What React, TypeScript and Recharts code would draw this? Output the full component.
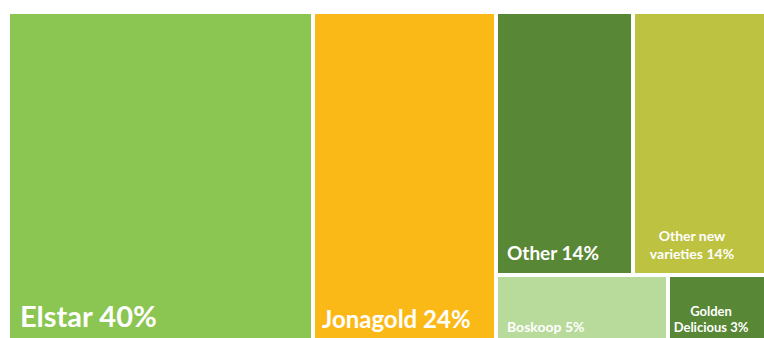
import { Treemap } from "recharts";

// variedades y su participación (%)
const varieties = ["Elstar", "Jonagold", "Other", "Other new varieties", "Boskoop", "Golden Delicious"];
const shares = [40, 24, 14, 14, 5, 3];

const colors: Record<string, string> = {
  Elstar: "#8BC552",
  Jonagold: "#FBB918",
  Other: "#588735",
  "Other new varieties": "#BDC241",
  Boskoop: "#B8DA9A",
  "Golden Delicious": "#588735",
};

// como se dibuja cada etiqueta
const labelStyle: Record<string, { size: number; lines: string[]; anchor: "start" | "middle"; dx: number; bottom: number; gap: number }> = {
  Elstar: { size: 29, lines: ["Elstar"], anchor: "start", dx: 12, bottom: 23, gap: 0 },
  Jonagold: { size: 24, lines: ["Jonagold"], anchor: "start", dx: 9, bottom: 22, gap: 0 },
  Other: { size: 19, lines: ["Other"], anchor: "start", dx: 11, bottom: 15, gap: 0 },
  "Other new varieties": { size: 14, lines: ["Other new", "varieties"], anchor: "middle", dx: 59, bottom: 16, gap: 18 },
  Boskoop: { size: 14, lines: ["Boskoop"], anchor: "start", dx: 11, bottom: 18, gap: 0 },
  "Golden Delicious": { size: 13, lines: ["Golden", "Delicious"], anchor: "middle", dx: 43, bottom: 18, gap: 16 },
};

const data = varieties.map((name, i) => ({ name, size: shares[i] }));

function Cell(props: any) {
  const { x, y, width, height, depth, name, size } = props;
  if (depth !== 1) return null;
  const st = labelStyle[name];
  const lines = st.lines.map((l, i) => (i === st.lines.length - 1 ? `${l} ${size}%` : l));
  const baseY = y + height - st.bottom;
  return (
    <g>
      <rect x={x} y={y} width={width} height={height} fill={colors[name]} stroke="#fff" strokeWidth={4} />
      {lines.map((l, i) => (
        <text
          key={i}
          x={x + st.dx}
          y={baseY - (lines.length - 1 - i) * st.gap}
          textAnchor={st.anchor}
          fill="#fff"
          stroke="none"
          fontFamily="Lato, sans-serif"
          fontWeight={700}
          fontSize={st.size}
        >
          {l}
        </text>
      ))}
    </g>
  );
}

export default function App() {
  return (
    <div style={{ position: "fixed", left: 0, top: 0, width: 764, height: 338, overflow: "hidden", background: "#fff" }}>
      <div style={{ position: "absolute", left: 8, top: 12 }}>
        <Treemap
          width={762}
          height={338}
          data={data}
          dataKey="size"
          aspectRatio={1}
          stroke="#fff"
          content={<Cell />}
          isAnimationActive={false}
        />
      </div>
    </div>
  );
}
